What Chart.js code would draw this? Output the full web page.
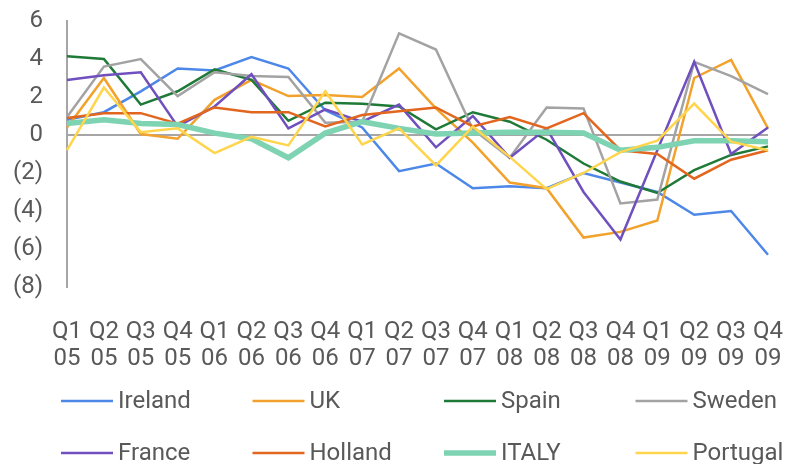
<!DOCTYPE html>
<html>
<head>
<meta charset="utf-8">
<title>Quarterly change by country</title>
<script src="https://cdn.jsdelivr.net/npm/chart.js@4.4.0/dist/chart.umd.min.js"></script>
<style>
  html, body { margin: 0; padding: 0; background: #ffffff; }
  #wrap { width: 787px; height: 464px; }
</style>
</head>
<body>
<div id="wrap"><canvas id="chart"></canvas></div>
<script>
// Categories (two-line quarter labels)
const quarters = [
    ['Q1', '05'], ['Q2', '05'], ['Q3', '05'], ['Q4', '05'],
    ['Q1', '06'], ['Q2', '06'], ['Q3', '06'], ['Q4', '06'],
    ['Q1', '07'], ['Q2', '07'], ['Q3', '07'], ['Q4', '07'],
    ['Q1', '08'], ['Q2', '08'], ['Q3', '08'], ['Q4', '08'],
    ['Q1', '09'], ['Q2', '09'], ['Q3', '09'], ['Q4', '09']
];

// Series values
const ireland  = [0.8, 1.2, 2.3, 3.5, 3.4, 4.1, 3.5, 1.3, 0.4, -1.9, -1.5, -2.8, -2.7, -2.8, -2.0, -2.5, -3.0, -4.2, -4.0, -6.3];
const uk       = [0.4, 3.0, 0.05, -0.2, 1.85, 2.9, 2.05, 2.1, 2.0, 3.5, 1.4, -0.4, -2.5, -2.8, -5.4, -5.1, -4.5, 3.0, 3.95, 0.35];
const spain    = [4.15, 4.0, 1.6, 2.3, 3.45, 2.9, 0.75, 1.7, 1.65, 1.5, 0.3, 1.2, 0.7, -0.25, -1.5, -2.45, -3.05, -1.85, -1.05, -0.6];
const sweden   = [0.95, 3.6, 4.0, 2.05, 3.3, 3.1, 3.05, 0.65, 0.7, 5.35, 4.5, 0.3, -1.2, 1.45, 1.4, -3.6, -3.4, 3.85, 3.1, 2.15];
const france   = [2.9, 3.15, 3.3, 0.45, 1.5, 3.2, 0.35, 1.35, 0.7, 1.6, -0.65, 1.0, -1.2, 0.35, -3.0, -5.5, -0.8, 3.85, -1.0, 0.4];
const holland  = [0.9, 1.15, 1.15, 0.6, 1.45, 1.2, 1.2, 0.45, 1.05, 1.25, 1.45, 0.45, 0.95, 0.35, 1.15, -0.8, -1.0, -2.3, -1.3, -0.8];
const italy    = [0.6, 0.8, 0.6, 0.55, 0.1, -0.2, -1.2, 0.1, 0.7, 0.35, 0.05, 0.1, 0.15, 0.15, 0.1, -0.8, -0.65, -0.3, -0.3, -0.35];
const portugal = [-0.8, 2.5, 0.15, 0.35, -0.95, -0.1, -0.55, 2.3, -0.5, 0.35, -1.6, 0.45, -1.15, -2.85, -2.0, -0.9, -0.3, 1.65, -0.35, -0.8];

// Y axis ticks
const yTicks = [-8, -6, -4, -2, 0, 2, 4, 6];

const TEXT_COLOR = '#595959';
const AXIS_COLOR = '#A6A6A6';
const FONT = 'Roboto, "Open Sans", sans-serif';

const series = [
    { label: 'Ireland',  data: ireland,  color: '#4D88E8', width: 2.5 },
    { label: 'UK',       data: uk,       color: '#F2A22C', width: 2.5 },
    { label: 'Spain',    data: spain,    color: '#1F7A38', width: 2.5 },
    { label: 'Sweden',   data: sweden,   color: '#A3A3A3', width: 2.5 },
    { label: 'France',   data: france,   color: '#7050BE', width: 2.5 },
    { label: 'Holland',  data: holland,  color: '#E2661E', width: 2.5 },
    { label: 'ITALY',    data: italy,    color: '#7ED3B2', width: 5.5 },
    { label: 'Portugal', data: portugal, color: '#FFD54D', width: 2.5 }
];

// Legend drawn as a 4-column grid under the axis labels
const gridLegend = {
    id: 'gridLegend',
    afterDraw(chart) {
        const ctx = chart.ctx;
        ctx.save();
        ctx.font = '24px ' + FONT;
        ctx.fillStyle = TEXT_COLOR;
        ctx.textBaseline = 'middle';
        ctx.textAlign = 'left';
        chart.data.datasets.forEach((ds, i) => {
            const x = 61 + (i % 4) * 191.5;
            const y = 401 + Math.floor(i / 4) * 52;
            ctx.strokeStyle = ds.borderColor;
            ctx.lineWidth = ds.borderWidth;
            ctx.beginPath();
            ctx.moveTo(x, y);
            ctx.lineTo(x + 52, y);
            ctx.stroke();
            ctx.fillText(ds.label, x + 57, y + 1);
        });
        ctx.restore();
    }
};

new Chart(document.getElementById('chart'), {
    type: 'line',
    data: {
        labels: quarters,
        datasets: series.map((s, i) => ({
            label: s.label,
            data: s.data,
            borderColor: s.color,
            backgroundColor: s.color,
            borderWidth: s.width,
            pointRadius: 0,
            tension: 0,
            fill: false,
            order: series.length - 1 - i
        }))
    },
    options: {
        responsive: true,
        maintainAspectRatio: false,
        animation: false,
        layout: {
            autoPadding: false,
            padding: { top: 21, right: 19, bottom: 96, left: 12 }
        },
        plugins: {
            legend: { display: false },
            tooltip: { enabled: false }
        },
        scales: {
            x: {
                offset: false,
                grid: { display: false },
                border: { display: false },
                afterFit: function(axis) {
                    axis.height = 81;
                    axis.paddingLeft = 0;
                    axis.paddingRight = 0;
                },
                ticks: {
                    autoSkip: false,
                    maxRotation: 0,
                    minRotation: 0,
                    padding: 23,
                    color: TEXT_COLOR,
                    font: { family: FONT, size: 24, lineHeight: 1.15 }
                }
            },
            y: {
                min: yTicks[0],
                max: yTicks[yTicks.length - 1],
                afterBuildTicks: function(axis) {
                    axis.ticks = yTicks.map(v => ({ value: v }));
                },
                afterFit: function(axis) {
                    axis.width = 55;
                    axis.paddingTop = 0;
                    axis.paddingBottom = 0;
                },
                grid: {
                    drawTicks: false,
                    lineWidth: 2,
                    color: function(c) {
                        return c.tick && c.tick.value === 0 ? AXIS_COLOR : 'transparent';
                    }
                },
                border: { display: true, color: AXIS_COLOR, width: 2 },
                ticks: {
                    autoSkip: false,
                    padding: 24,
                    color: TEXT_COLOR,
                    font: { family: FONT, size: 24 },
                    callback: function(value) {
                        return value < 0 ? '(' + (-value) + ')' : String(value);
                    }
                }
            }
        }
    },
    plugins: [gridLegend]
});
</script>
</body>
</html>
